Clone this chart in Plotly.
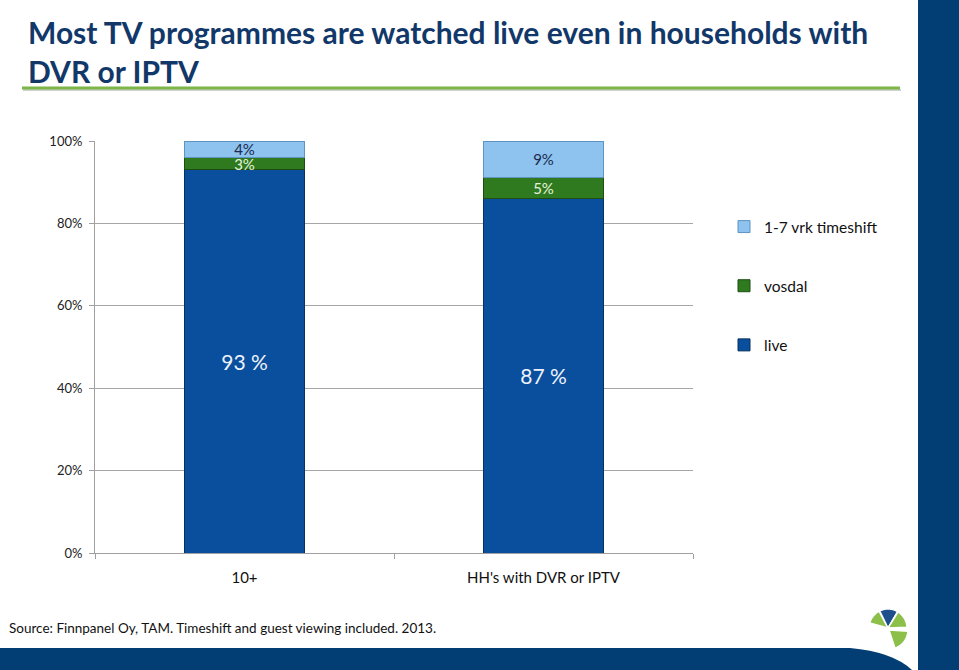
import numpy as np
import plotly.graph_objects as go

# ---- data ----
categories = ["10+", "HH's with DVR or IPTV"]
live = [93, 87]
vosdal = [3, 5]
timeshift = [4, 9]
y_ticks = [0, 20, 40, 60, 80, 100]

# ---- geometry (pixels) ----
W, H = 959, 670
L, R, T, B = 95, 693, 141, 553


def px(x):
    return (x - L) / (R - L)


def py(y):
    return (B - y) / (B - T)


FONT = "Lato"

fig = go.Figure()
fig.add_trace(go.Bar(
    name="live", x=categories, y=live, legendrank=3,
    text=[f"{v} %" for v in live],
    marker=dict(color="#0a4e9e", line=dict(color="#06325f", width=1)),
    textfont=dict(size=21, color="#eef3fb", family=FONT),
))
fig.add_trace(go.Bar(
    name="vosdal", x=categories, y=vosdal, legendrank=2,
    text=[f"{v}%" for v in vosdal],
    marker=dict(color="#2f7a1f", line=dict(color="#1d4d12", width=1)),
    textfont=dict(size=15, color="#e6f3dc", family=FONT),
))
fig.add_trace(go.Bar(
    name="1-7 vrk timeshift", x=categories, y=timeshift, legendrank=1,
    text=[f"{v}%" for v in timeshift],
    marker=dict(color="#8dc3ee", line=dict(color="#5f93c2", width=1)),
    textfont=dict(size=15, color="#1b2a4e", family=FONT),
))
fig.update_traces(textposition="inside", insidetextanchor="middle",
                  constraintext="none", textangle=0, cliponaxis=False)
for tr in fig.data:
    tr.legendgroup = tr.name

shapes = []
# right dark band
shapes.append(dict(type="rect", xref="paper", yref="paper",
                   x0=px(918), x1=px(970), y0=py(680), y1=py(-10),
                   fillcolor="#023e74", line=dict(width=0), layer="above"))
# bottom swoosh band
path = (f"M {px(-5)},{py(648)} L {px(850)},{py(648)} "
        f"Q {px(895)},{py(652)} {px(914)},{py(672)} "
        f"L {px(-5)},{py(672)} Z")
shapes.append(dict(type="path", xref="paper", yref="paper", path=path,
                   fillcolor="#023e74", line=dict(width=0), layer="above"))
# green rule under title (shadow + line)
shapes.append(dict(type="line", xref="paper", yref="paper",
                   x0=px(23), x1=px(901), y0=py(90), y1=py(90),
                   line=dict(color="#d0d0d0", width=2)))
shapes.append(dict(type="line", xref="paper", yref="paper",
                   x0=px(22), x1=px(900), y0=py(88), y1=py(88),
                   line=dict(color="#7cb648", width=3)))


# logo wedges
def wedge(cx, cy, r, a0, a1, color):
    angs = np.linspace(np.radians(a0), np.radians(a1), 12)
    pts = [(cx, cy)] + [(cx + r * np.cos(a), cy - r * np.sin(a)) for a in angs]
    d = "M " + " L ".join(f"{px(x):.5f},{py(y):.5f}" for x, y in pts) + " Z"
    return dict(type="path", xref="paper", yref="paper", path=d,
                fillcolor=color, line=dict(color="white", width=1.5), layer="above")


cx, cy = 888, 628
shapes.append(wedge(cx, cy, 19, 118, 165, "#8cc04a"))
shapes.append(wedge(cx, cy, 19, 60, 116, "#1f4e8c"))
shapes.append(wedge(cx, cy, 19, 2, 58, "#8cc04a"))
shapes.append(wedge(cx + 1, cy + 2, 19, -72, -4, "#8cc04a"))

fig.update_layout(
    width=W, height=H,
    margin=dict(l=L, r=W - R, t=T, b=H - B, autoexpand=False),
    barmode="stack", barnorm="percent", bargap=0.6,
    plot_bgcolor="white", paper_bgcolor="white",
    font=dict(family=FONT, color="#222222"),
    showlegend=True,
    legend=dict(x=px(724), y=py(210), xanchor="left", yanchor="top",
                traceorder="grouped", tracegroupgap=36,
                font=dict(size=15.5, color="#111111", family=FONT),
                bgcolor="rgba(0,0,0,0)", itemwidth=30),
    xaxis=dict(showline=True, linecolor="#a0a0a0", ticks="outside",
               tickson="boundaries", ticklen=5, tickcolor="#a0a0a0",
               tickfont=dict(size=15, color="#111111"), ticklabelstandoff=11),
    yaxis=dict(range=[0, 100], tickvals=y_ticks,
               ticktext=[f"{v}%" for v in y_ticks],
               showline=True, linecolor="#a0a0a0", ticks="outside",
               ticklen=5, tickcolor="#a0a0a0", showgrid=True,
               gridcolor="#a6a6a6", gridwidth=1, ticklabelstandoff=4,
               tickfont=dict(size=13, color="#222222"), zeroline=False),
    shapes=shapes,
    annotations=[
        dict(text="<b>Most TV programmes are watched live even in households with<br>DVR or IPTV</b>",
             xref="paper", yref="paper", x=px(26), y=py(12),
             xanchor="left", yanchor="top", align="left", showarrow=False,
             font=dict(size=30, color="#12386a", family=FONT)),
        dict(text="Source: Finnpanel Oy, TAM. Timeshift and guest viewing included. 2013.",
             xref="paper", yref="paper", x=px(7), y=py(628),
             xanchor="left", yanchor="middle", showarrow=False,
             font=dict(size=13.5, color="#111111", family=FONT)),
    ],
)

fig.write_html("out.html", config={"displayModeBar": False},
               post_script="document.body.style.margin='0';")
